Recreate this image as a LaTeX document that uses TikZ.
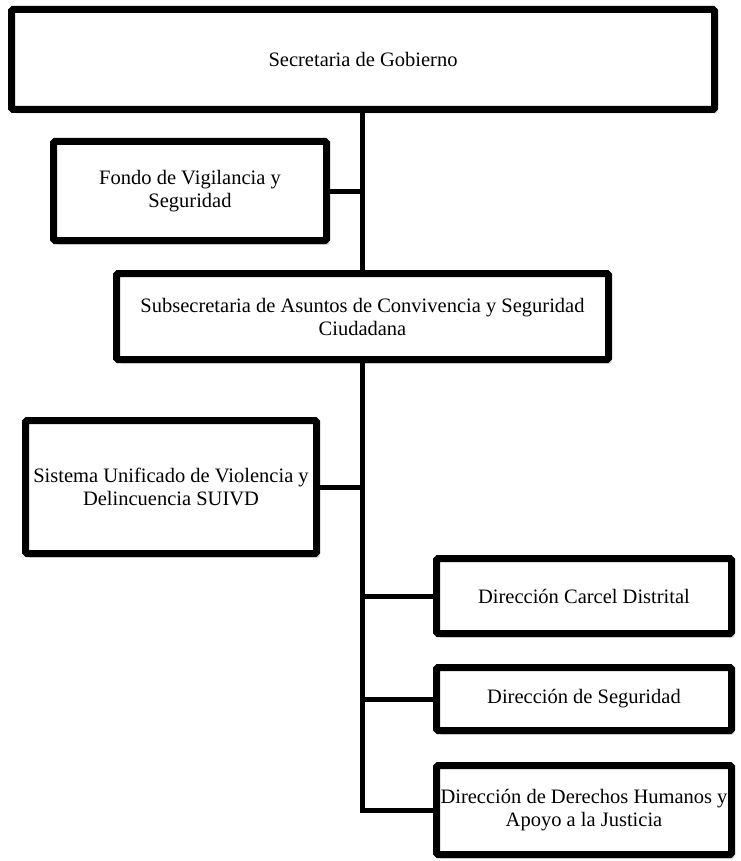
\documentclass[tikz,border=0pt]{standalone}
\usepackage{fontspec}
\setmainfont{Liberation Serif}
\usepackage{tikz}
\usetikzlibrary{positioning,calc,shadows}
\definecolor{shade}{RGB}{150,150,150}
\tikzset{
  unitbox/.style={draw=black,line width=7pt,fill=white,rounded corners=1.5pt,
    align=center,inner sep=2pt,
    drop shadow={shadow xshift=3pt,shadow yshift=-4pt,fill=shade,opacity=0.45},
    font=\fontsize{20.5}{23}\selectfont},
  link/.style={line width=5pt,line join=miter}
}

\begin{document}
\begin{tikzpicture}[x=1pt,y=-1pt]
\useasboundingbox (0,0) rectangle (740,861);
% organigrama
\node[unitbox,minimum width=703pt,minimum height=100pt] (sg) at (363,59.5) {Secretaria de Gobierno};
\node[unitbox,minimum width=273pt,minimum height=99pt] (fvs) at (190,191) {Fondo de Vigilancia y\\Seguridad};
\node[unitbox,minimum width=492pt,minimum height=86pt] (sacs) at (362.5,316.5) {Subsecretaria de Asuntos de Convivencia y Seguridad\\Ciudadana};
\node[unitbox,minimum width=291pt,minimum height=133pt,inner sep=0pt] (suivd) at (171,487) {Sistema Unificado de Violencia y\\Delincuencia SUIVD};
\node[unitbox,minimum width=295pt,minimum height=75pt] (dcd) at (584,596) {Direcci\'on Carcel Distrital};
\node[unitbox,minimum width=295pt,minimum height=63pt] (ds) at (584,699) {Direcci\'on de Seguridad};
\node[unitbox,minimum width=295pt,minimum height=89pt,inner sep=0pt] (ddh) at (584,810) {Direcci\'on de Derechos Humanos y\\Apoyo a la Justicia};

\coordinate (top) at ($(sg.south)+(-1,0)$);
\coordinate (mid) at ($(sacs.south)+(-0.5,0)$);
\draw[link] (top) -- (top |- sacs.north);
\draw[link] (fvs.east) -- (fvs.east -| top);
\draw[link] (mid) -- (mid |- ddh.west) -- (ddh.west);
\draw[link] (suivd.east) -- (suivd.east -| mid);
\draw[link] (dcd.west) -- (dcd.west -| mid);
\draw[link] (ds.west) -- (ds.west -| mid);
\end{tikzpicture}
\end{document}
